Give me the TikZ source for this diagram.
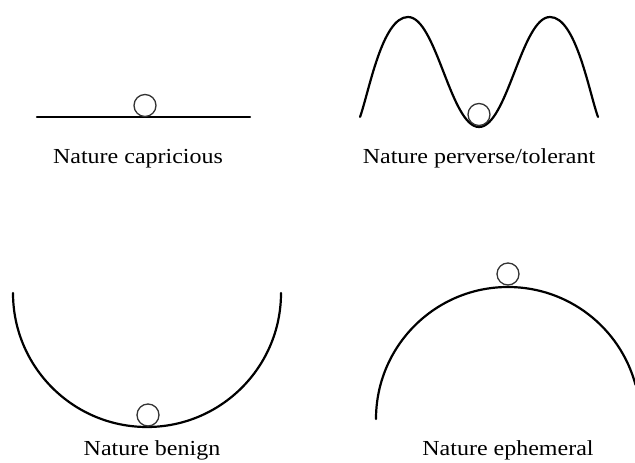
\documentclass[tikz,border=0pt]{standalone}
\usepackage{fontspec}
\setmainfont{Liberation Serif}[FakeStretch=1.12]
\begin{document}
\begin{tikzpicture}[x=1bp,y=1bp,line cap=round,line join=round,every node/.style={font=\fontsize{21.5}{24}\selectfont}]
  \tikzset{ground/.style={line width=2.2bp},ball/.style={line width=1.3bp,draw=black!80}}
  \def\r{11}
  \useasboundingbox (0,0) rectangle (635,463);
  % capricious
  \coordinate (A1) at (37,346); \coordinate (A2) at (250,346);
  \draw[ground] (A1)--(A2);
  \draw[ball] (145,357.5) circle (\r);
  \node[anchor=base] (capr) at (138,299.5) {Nature capricious};
  % perverse/tolerant
  \coordinate (B1) at (360,346); \coordinate (B2) at (408,446);
  \coordinate (B3) at (479,336); \coordinate (B4) at (550,446);
  \coordinate (B5) at (598,346);
  \draw[ground] (B1) to[out=70,in=180,looseness=.6] (B2)
    to[out=0,in=180,looseness=.55] (B3)
    to[out=0,in=180,looseness=.55] (B4)
    to[out=0,in=110,looseness=.6] (B5);
  \draw[ball] (479,348.5) circle (\r);
  \node[anchor=base] (perv) at (479,299.5) {Nature perverse/tolerant};
  % benign
  \def\R{134}
  \draw[ground] (13,170) arc (180:360:\R);
  \draw[ball] (148,48) circle (\r);
  \node[anchor=base] (beni) at (152,7) {Nature benign};
  % ephemeral
  \def\Rb{132}
  \draw[ground] (376,44) arc (180:15:\Rb);
  \draw[ball] (508,189) circle (\r);
  \node[anchor=base] (ephe) at (508,7) {Nature ephemeral};
\end{tikzpicture}
\end{document}
